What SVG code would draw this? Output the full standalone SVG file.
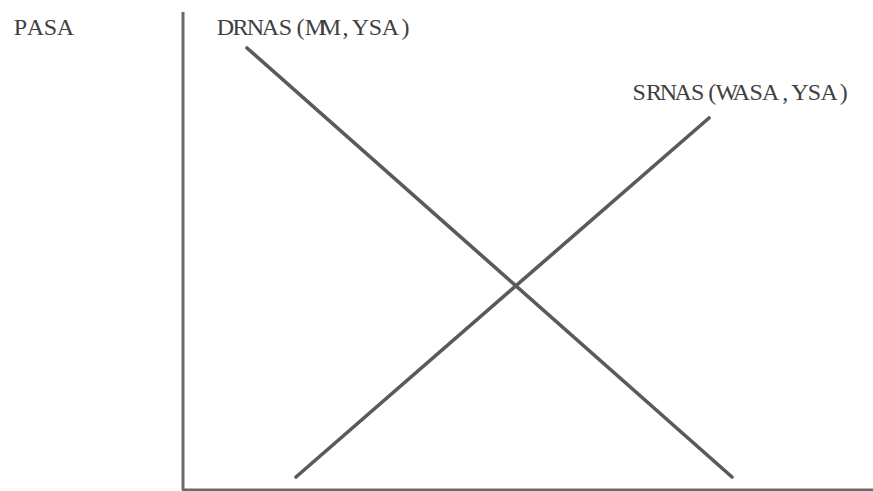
<svg xmlns="http://www.w3.org/2000/svg" width="873" height="491" viewBox="0 0 873 491">
  <style>
    .lbl { font-family: "Liberation Serif", "DejaVu Serif", serif; font-size: 24px; fill: #404040; text-anchor: middle; }
    .axis { stroke: #6a6a6a; stroke-width: 3; fill: none; }
    .curve { stroke: #5a5a5a; stroke-width: 3.6; stroke-linecap: round; fill: none; }
  </style>
  <rect width="873" height="491" fill="#ffffff"/>

  <!-- axes -->
  <g id="axes">
    <line class="axis" x1="183" y1="12" x2="183" y2="490"/>
    <line class="axis" x1="182" y1="490" x2="873" y2="490"/>
  </g>

  <!-- axis label, typewriter-spaced: one glyph per fixed cell -->
  <g id="pasa">
    <text class="lbl" x="20.5 35.5 50.5 65.5" y="35">PASA</text>
  </g>

  <!-- demand and supply curves -->
  <g id="connectors">
    <line class="curve" x1="247" y1="48" x2="732" y2="477"/>
    <line class="curve" x1="296" y1="477" x2="709" y2="118"/>
  </g>

  <g id="drnas">
    <text class="lbl" x="225.5 240.5 255.5 270.5 285.5 300.5 315.5 330.5 345.5 360.5 375.5 390.5 405.5" y="35">DRNAS(MM,YSA)</text>
  </g>

  <g id="srnas">
    <text class="lbl" x="639.3 653.9 668.5 683.1 697.7 712.3 726.9 741.5 756.1 770.7 785.3 799.9 814.5 829.1 843.7 858.3" y="100">SRNAS(WASA,YSA)</text>
  </g>
</svg>
